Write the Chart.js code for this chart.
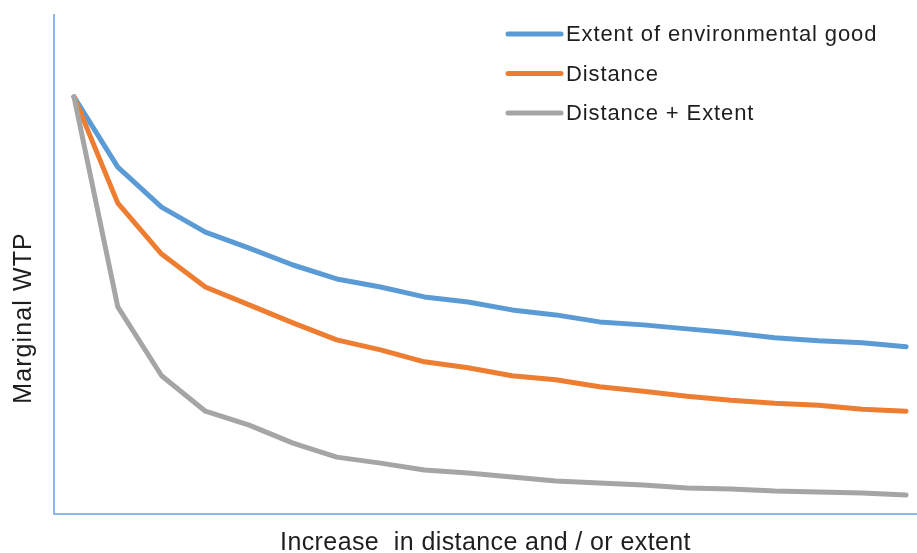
<!DOCTYPE html>
<html>
<head>
<meta charset="utf-8">
<script src="https://cdn.jsdelivr.net/npm/chart.js@4"></script>
<style>
  html, body { margin: 0; padding: 0; background: #fff; }
  #wrap { width: 917px; height: 553px; }
</style>
</head>
<body>
<div id="wrap"><canvas id="wtp"></canvas></div>
<script>
// step along the x axis (no tick labels in the original)
var steps = [1, 2, 3, 4, 5, 6, 7, 8, 9, 10, 11, 12, 13, 14, 15, 16, 17, 18, 19, 20];

var extentWtp = [83.6, 69.5, 61.5, 56.5, 53.3, 49.9, 47.1, 45.5, 43.5, 42.5, 40.9, 39.9, 38.5, 37.9, 37.1, 36.3, 35.3, 34.7, 34.3, 33.5];
var distanceWtp = [83.6, 62.3, 52.1, 45.5, 41.9, 38.3, 34.9, 32.9, 30.5, 29.3, 27.7, 26.9, 25.5, 24.6, 23.6, 22.8, 22.2, 21.8, 21.0, 20.6];
var bothWtp = [83.6, 41.5, 27.7, 20.6, 17.8, 14.2, 11.4, 10.2, 8.8, 8.2, 7.4, 6.6, 6.2, 5.8, 5.2, 5.0, 4.6, 4.4, 4.2, 3.8];

var seriesNames = ["Extent of environmental good", "Distance", "Distance + Extent"];
var xTitle = "Increase  in distance and / or extent";
var yTitle = "Marginal WTP";

function pts(ys) {
    return steps.map(function (x, i) { return { x: x, y: ys[i] }; });
}

var axisColor = "#8cb8e8";
var textColor = "#1e1e1e";
var fontFamily = "'Liberation Sans', Arial, sans-serif";

// excel text runs a bit wider than canvas text
var spacing = {
    id: 'spacing',
    beforeDraw: function (chart) {
        chart.ctx.letterSpacing = '0.4px';
    }
};

// legend drawn inside the plot, top right, like the excel one
var insideLegend = {
    id: 'insideLegend',
    afterDraw: function (chart) {
        var ctx = chart.ctx;
        ctx.save();
        ctx.font = "22px " + fontFamily;
        ctx.letterSpacing = '0.9px';
        ctx.textBaseline = 'middle';
        ctx.fillStyle = textColor;
        chart.data.datasets.forEach(function (ds, i) {
            var y = 34 + i * 39.5;
            ctx.strokeStyle = ds.borderColor;
            ctx.lineWidth = 5;
            ctx.lineCap = 'round';
            ctx.beginPath();
            ctx.moveTo(508, y);
            ctx.lineTo(561, y);
            ctx.stroke();
            ctx.fillText(ds.label, 566, y + 1);
        });
        ctx.restore();
    }
};

// y title sits below the middle of the axis in the original
var yTitlePlugin = {
    id: 'yTitlePlugin',
    afterDraw: function (chart) {
        var ctx = chart.ctx;
        ctx.save();
        ctx.translate(24, 318);
        ctx.rotate(-Math.PI / 2);
        ctx.font = "25px " + fontFamily;
        ctx.letterSpacing = '1.1px';
        ctx.textAlign = 'center';
        ctx.textBaseline = 'middle';
        ctx.fillStyle = textColor;
        ctx.fillText(yTitle, 0, 0);
        ctx.restore();
    }
};

var chart = new Chart(document.getElementById("wtp"), {
type: 'line',
data: {
    datasets: [{
        label: seriesNames[0],
        data: pts(extentWtp),
        borderColor: "#5b9bd5",
        order: 3
    }, {
        label: seriesNames[1],
        data: pts(distanceWtp),
        borderColor: "#ed7d31",
        order: 2
    }, {
        label: seriesNames[2],
        data: pts(bothWtp),
        borderColor: "#a5a5a5",
        order: 1
    }]
},
options: {
    responsive: true,
    maintainAspectRatio: false,
    animation: false,
    layout: {
        padding: { left: 54, top: 15, right: 0, bottom: 0 }
    },
    elements: {
        line: {
            borderWidth: 5,
            tension: 0,
            fill: false,
            borderCapStyle: 'round',
            borderJoinStyle: 'round'
        },
        point: { radius: 0, hoverRadius: 0 }
    },
    scales: {
        x: {
            type: 'linear',
            min: 0.543,
            max: 20.25,
            grid: { display: false, drawTicks: false },
            ticks: { display: false },
            border: { color: axisColor, width: 2 },
            title: {
                display: true,
                text: xTitle,
                color: textColor,
                font: { family: fontFamily, size: 25, lineHeight: 1 },
                padding: { top: 17, bottom: -3 }
            }
        },
        y: {
            min: 0,
            max: 100,
            grid: { display: false, drawTicks: false },
            ticks: { display: false },
            border: { color: axisColor, width: 2 }
        }
    },
    plugins: {
        legend: { display: false },
        tooltip: { enabled: false }
    }
},
plugins: [spacing, insideLegend, yTitlePlugin]
});
</script>
</body>
</html>
